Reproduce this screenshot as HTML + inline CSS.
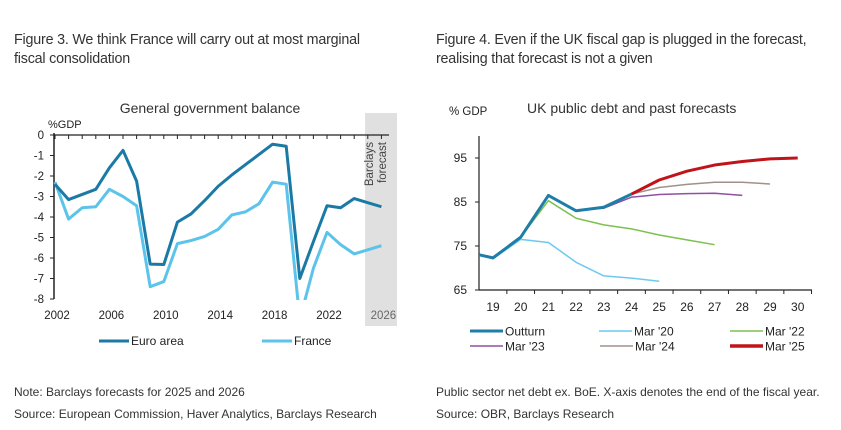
<!DOCTYPE html>
<html><head><meta charset="utf-8"><style>
body{margin:0;background:#fff;width:841px;height:430px;overflow:hidden;font-family:"Liberation Sans",sans-serif;color:#222}
.t{position:absolute;white-space:nowrap}
.h{font-family:"Liberation Sans",sans-serif;font-size:14.3px;color:#333;line-height:19px;letter-spacing:-0.2px}
.f{font-size:12px;color:#333}
</style></head><body>
<div class="t h" style="left:14px;top:31px">Figure 3. We think France will carry out at most marginal<br>fiscal consolidation</div>
<div class="t h" style="left:436px;top:31px">Figure 4. Even if the UK fiscal gap is plugged in the forecast,<br>realising that forecast is not a given</div>
<div class="t f" style="left:14px;top:385px">Note: Barclays forecasts for 2025 and 2026</div>
<div class="t f" style="left:14px;top:407px">Source: European Commission, Haver Analytics, Barclays Research</div>
<div class="t f" style="left:436px;top:385px">Public sector net debt ex. BoE. X-axis denotes the end of the fiscal year.</div>
<div class="t f" style="left:436px;top:407px">Source: OBR, Barclays Research</div>
<svg id="c1" width="841" height="430" style="position:absolute;left:0;top:0"></svg>
<script>
const years1=[2002,2003,2004,2005,2006,2007,2008,2009,2010,2011,2012,2013,2014,2015,2016,2017,2018,2019,2020,2021,2022,2023,2024,2025,2026];
const euroArea=[-2.4,-3.15,-2.9,-2.65,-1.6,-0.75,-2.25,-6.3,-6.32,-4.25,-3.85,-3.2,-2.5,-1.95,-1.45,-0.95,-0.45,-0.55,-7.0,-5.2,-3.45,-3.55,-3.1,-3.3,-3.5];
const france=[-2.3,-4.1,-3.55,-3.5,-2.65,-3.0,-3.45,-7.4,-7.15,-5.3,-5.15,-4.95,-4.6,-3.9,-3.75,-3.35,-2.3,-2.4,-9.0,-6.5,-4.75,-5.35,-5.8,-5.6,-5.4];
const yTicks1=[0,-1,-2,-3,-4,-5,-6,-7,-8];
const xLabels1=[2002,2006,2010,2014,2018,2022,2026];
const forecastStart=2024.8;

const ukYears=[18.5,19,20,21,22,23,24,25,26,27,28,29,30];
const outturn=[73,72.3,77,86.5,83,83.8,86.8];
const mar20=[73,72.1,76.5,75.8,71.3,68.2,67.7,67.0];
const mar22=[null,null,77,85.3,81.3,79.8,78.9,77.5,76.4,75.3];
const mar23=[null,null,null,null,83.1,83.6,86.1,86.7,86.9,87.0,86.5];
const mar24=[null,null,null,null,null,83.8,86.8,88.3,89.0,89.5,89.5,89.1];
const mar25=[null,null,null,null,null,null,86.8,90.0,92.0,93.4,94.2,94.8,95.0];
const yTicks2=[65,75,85,95];
const xLabels2=[19,20,21,22,23,24,25,26,27,28,29,30];

const NS='http://www.w3.org/2000/svg';
const svg=document.getElementById('c1');
function mk(t,a,p){const e=document.createElementNS(NS,t);for(const k in a)e.setAttribute(k,a[k]);(p||svg).appendChild(e);return e;}
function txt(x,y,s,a){const e=mk('text',Object.assign({x:x,y:y,'font-family':'Liberation Sans, sans-serif','font-size':11,fill:'#222'},a||{}));e.textContent=s;return e;}

// ---- chart 1
const x1=y=>55+(y-2002)*13.6, y1=v=>135+(-v)*20.5;
const sh=mk('rect',{x:x1(forecastStart),y:113,width:397-x1(forecastStart),height:213,fill:'#e0e0e0'});

const fl=txt(0,0,'Barclays',{transform:'translate(373,142) rotate(-90)','text-anchor':'end','font-size':11.5,fill:'#444'});

txt(0,0,'forecast',{transform:'translate(386,142) rotate(-90)','text-anchor':'end','font-size':11.5,fill:'#444'});
const st=txt(210,113,'General government balance',{'text-anchor':'middle','font-size':14,fill:'#333'});

txt(48,128,'%GDP');
mk('line',{x1:54,y1:133,x2:54,y2:299,stroke:'#222','stroke-width':1.5});
mk('line',{x1:54,y1:135,x2:389,y2:135,stroke:'#222','stroke-width':1.2});
yTicks1.forEach(v=>{txt(44,y1(v)+4,String(v),{'text-anchor':'end','font-size':11.5});mk('line',{x1:50,y1:y1(v),x2:54,y2:y1(v),stroke:'#222'});});
for(let y=2002;y<=2026;y++)mk('line',{x1:x1(y),y1:135,x2:x1(y),y2:139,stroke:'#222'});
xLabels1.forEach(y=>txt(x1(y)+2,319,String(y),{'text-anchor':'middle','font-size':11.5,fill:y==2026?'#666':'#222'}));
const cp=mk('clipPath',{id:'cl1'});mk('rect',{x:50,y:125,width:350,height:175},cp);
function path1(vals,col,name){const d=vals.map((v,i)=>(i?'L':'M')+x1(years1[i])+','+y1(v)).join(' ');
 const p=mk('path',{d:d,fill:'none',stroke:col,'stroke-width':3,'clip-path':'url(#cl1)','stroke-linejoin':'round'});
 }
path1(france,'#5cc3ea','france-line');
path1(euroArea,'#1b7aa5','euro-area-line');
let l=mk('line',{x1:99,y1:341,x2:129,y2:341,stroke:'#1b7aa5','stroke-width':3});
txt(131,345,'Euro area',{'font-size':12});
l=mk('line',{x1:262,y1:341,x2:292,y2:341,stroke:'#5cc3ea','stroke-width':3});
txt(294,345,'France',{'font-size':12});

// ---- chart 2
const x2=y=>493+(y-19)*27.7, y2=v=>290-(v-65)*4.4;
txt(449,115,'% GDP',{'font-size':11.5});
const st2=txt(527,113,'UK public debt and past forecasts',{'font-size':14,fill:'#333'});

mk('line',{x1:479,y1:136,x2:479,y2:290,stroke:'#222','stroke-width':1.2});
mk('line',{x1:479,y1:290,x2:812,y2:290,stroke:'#222','stroke-width':1.2});
yTicks2.forEach(v=>{txt(467,y2(v)+4,String(v),{'text-anchor':'end','font-size':12});mk('line',{x1:475,y1:y2(v),x2:479,y2:y2(v),stroke:'#222'});});
for(let k=19.5;k<=30.5;k++)mk('line',{x1:x2(k),y1:290,x2:x2(k),y2:294,stroke:'#222'});
xLabels2.forEach(y=>txt(x2(y),311,String(y),{'text-anchor':'middle','font-size':12}));
function path2(vals,col,w,name){let d='';vals.forEach((v,i)=>{if(v==null)return;d+=(d?'L':'M')+x2(ukYears[i])+','+y2(v)+' ';});
 const p=mk('path',{d:d,fill:'none',stroke:col,'stroke-width':w,'stroke-linejoin':'round'});
 }
path2(mar20,'#6ccaf0',1.5,'mar-20-line');
path2(mar22,'#7cc04f',1.5,'mar-22-line');
path2(mar24,'#a0918a',1.5,'mar-24-line');
path2(mar23,'#8e50a0',1.5,'mar-23-line');
path2(outturn,'#1f7ea8',3,'outturn-line');
path2(mar25,'#c0141b',3,'mar-25-line');
const leg=[['Outturn','#1f7ea8',3,470,331],['Mar \'20','#6ccaf0',1.5,599,331],['Mar \'22','#7cc04f',1.5,730,331],['Mar \'23','#8e50a0',1.5,470,346],['Mar \'24','#a0918a',1.5,600,346],['Mar \'25','#c0141b',3.5,730,346]];
leg.forEach(g=>{const e=mk('line',{x1:g[3],y1:g[4],x2:g[3]+33,y2:g[4],stroke:g[1],'stroke-width':g[2]});
 
 
 txt(g[3]+35,g[4]+4.5,g[0],{'font-size':12});});
</script>
</body></html>
